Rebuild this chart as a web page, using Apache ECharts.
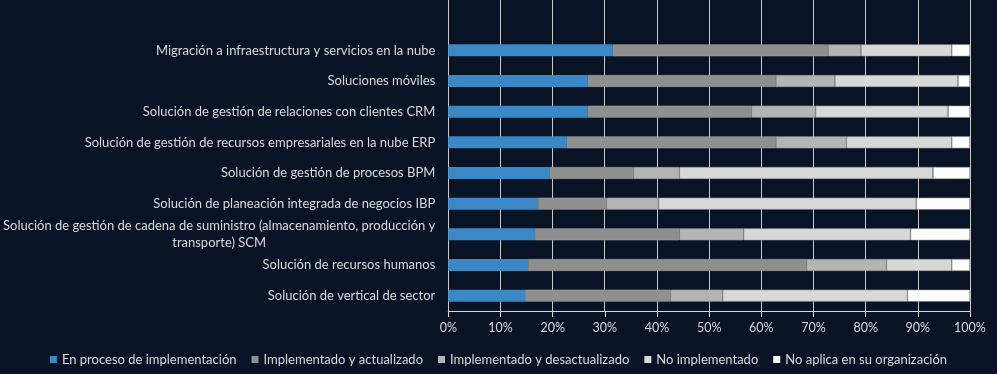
<!DOCTYPE html>
<html>
<head>
<meta charset="utf-8">
<script src="https://cdn.jsdelivr.net/npm/echarts@6/dist/echarts.min.js"></script>
<style>
  html, body { margin: 0; padding: 0; background: #091326; }
  #chart { width: 997px; height: 374px; }
</style>
</head>
<body>
<div id="chart"></div>
<script>
// categories, top to bottom
const categories = [
  'Migración a infraestructura y servicios en la nube',
  'Soluciones móviles',
  'Solución de gestión de relaciones con clientes CRM',
  'Solución de gestión de recursos empresariales en la nube ERP',
  'Solución de gestión de procesos BPM',
  'Solución de planeación integrada de negocios IBP',
  'Solución de gestión de cadena de suministro (almacenamiento, producción y\ntransporte) SCM',
  'Solución de recursos humanos',
  'Solución de vertical de sector'
]

const seriesNames = [
  'En proceso de implementación',
  'Implementado y actualizado',
  'Implementado y desactualizado',
  'No implementado',
  'No aplica en su organización'
]

// percentages per category
const enProceso = [31.5, 26.7, 26.7, 22.7, 19.4, 17.2, 16.6, 15.3, 14.7]
const actualizado = [41.3, 36.1, 31.4, 40.1, 16.1, 13.1, 27.7, 53.4, 27.9]
const desactualizado = [6.3, 11.3, 12.3, 13.5, 8.8, 10.0, 12.3, 15.3, 10.0]
const noImplementado = [17.4, 23.6, 25.4, 20.2, 48.6, 49.4, 32.0, 12.5, 35.4]
const noAplica = [3.5, 2.3, 4.2, 3.5, 7.1, 10.3, 11.4, 3.5, 12.0]

const colors = ['#3a88c6', '#8f8f8f', '#b4b4b4', '#d9d8d8', '#ffffff']
const textColor = '#d9d9d9'
const font = 'Lato'

const chart = echarts.init(document.getElementById('chart'))

const seriesData = [enProceso, actualizado, desactualizado, noImplementado, noAplica]

chart.setOption({
  backgroundColor: '#091326',
  color: colors,
  textStyle: { fontFamily: font },
  legend: {
    left: 'center',
    bottom: 3,
    icon: 'rect',
    itemWidth: 7,
    itemHeight: 7,
    itemGap: 15,
    itemStyle: { borderWidth: 0 },
    textStyle: { color: textColor, fontSize: 13, fontFamily: font },
    data: seriesNames
  },
  grid: [
    { left: 448, right: 27, top: 35, height: 276 },
    { left: 448, right: 27, top: 0, height: 311 }
  ],
  xAxis: [
    {
      type: 'value',
      gridIndex: 0,
      min: 0,
      max: 100,
      interval: 10,
      axisLine: { show: true, lineStyle: { color: textColor, width: 1 } },
      axisTick: { show: true, length: 6, lineStyle: { color: textColor } },
      splitLine: { show: false },
      axisLabel: { color: textColor, fontSize: 12.5, margin: 10, formatter: '{value}%' }
    },
    {
      // background grid lines reaching the top edge
      type: 'value',
      gridIndex: 1,
      min: 0,
      max: 100,
      interval: 10,
      axisLine: { show: false },
      axisTick: { show: false },
      axisLabel: { show: false },
      splitLine: { show: true, lineStyle: { color: '#c9c9c9', width: 1 } }
    }
  ],
  yAxis: [
    {
      type: 'category',
      gridIndex: 0,
      inverse: true,
      data: categories,
      axisLine: { show: false },
      axisTick: { show: false },
      axisLabel: {
        color: textColor,
        fontSize: 13,
        margin: 13,
        formatter: function (v) {
          return v.split('\n').map(function (s) { return '{c|' + s + '}' }).join('\n')
        },
        rich: {
          c: { align: 'center', color: textColor, fontSize: 13, fontFamily: font, lineHeight: 17 }
        }
      }
    },
    {
      type: 'category',
      gridIndex: 1,
      data: [''],
      show: false
    }
  ],
  series: seriesNames.map(function (name, i) {
    return {
      name: name,
      type: 'bar',
      stack: 'total',
      xAxisIndex: 0,
      yAxisIndex: 0,
      barWidth: 12,
      itemStyle: i === 0 ? {} : { borderColor: '#9c9c9c', borderWidth: 0.6 },
      emphasis: { disabled: true },
      data: seriesData[i]
    }
  })
})
</script>
</body>
</html>
